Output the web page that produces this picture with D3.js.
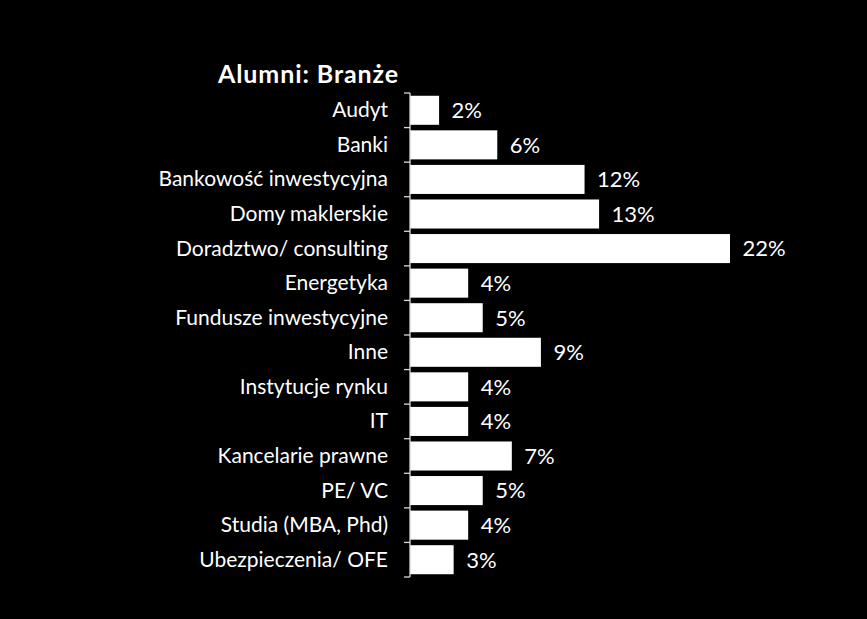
<!DOCTYPE html>
<html><head><meta charset="utf-8">
<script src="https://cdn.jsdelivr.net/npm/d3@7"></script>
<style>html,body{margin:0;padding:0;background:#000;}svg{display:block;}text{font-variant-ligatures:none;font-feature-settings:"liga" 0;}</style>
</head><body>
<script>
const title = "Alumni: Branże";
const categories = ["Audyt","Banki","Bankowość inwestycyjna","Domy maklerskie","Doradztwo/ consulting","Energetyka","Fundusze inwestycyjne","Inne","Instytucje rynku","IT","Kancelarie prawne","PE/ VC","Studia (MBA, Phd)","Ubezpieczenia/ OFE"];
const values = [2,6,12,13,22,4,5,9,4,4,7,5,4,3];
const valueLabels = ["2%","6%","12%","13%","22%","4%","5%","9%","4%","4%","7%","5%","4%","3%"];

const W = 867, H = 619;
const svg = d3.select("body").append("svg").attr("width", W).attr("height", H).style("background","#000");
const font = "Lato, 'Open Sans', sans-serif";

const x = d3.scaleLinear().domain([0, 22]).range([410, 730]);
const y = d3.scaleBand().domain(categories).range([93, 577]).paddingInner(0.16).paddingOuter(0.08);

svg.append("text").attr("x", 218).attr("y", 83).attr("fill", "#fff")
  .attr("font-family", font).attr("font-weight", "bold").attr("font-size", 25)
  .attr("letter-spacing", 0.9).text(title);

svg.selectAll("rect.bar").data(values).join("rect").attr("class","bar")
  .attr("x", x(0)).attr("y", (d,i) => y(categories[i]))
  .attr("width", d => x(d) - x(0)).attr("height", y.bandwidth()).attr("fill", "#fff");

// axis
const ax = svg.append("g");
ax.append("line").attr("x1", 410).attr("x2", 410).attr("y1", 93).attr("y2", 577)
  .attr("stroke", "#d9d9d9").attr("stroke-width", 1.3);
const tickYs = d3.range(categories.length + 1).map(i => 93 + i * (484 / categories.length));
ax.selectAll("line.t").data(tickYs).join("line").attr("class","t")
  .attr("x1", 404).attr("x2", 410).attr("y1", d => d).attr("y2", d => d)
  .attr("stroke", "#d9d9d9").attr("stroke-width", 1.3);

svg.selectAll("text.cat").data(categories).join("text").attr("class","cat")
  .attr("x", 388).attr("y", d => y(d) + y.bandwidth()/2).attr("dy", "0.33em")
  .attr("text-anchor", "end").attr("fill", "#fff").attr("font-family", font)
  .attr("font-size", 21).text(d => d);

svg.selectAll("text.val").data(values).join("text").attr("class","val")
  .attr("x", d => x(d) + 12.5).attr("y", (d,i) => y(categories[i]) + y.bandwidth()/2).attr("dy", "0.36em")
  .attr("fill", "#fff").attr("font-family", font).attr("font-size", 22)
  .text((d,i) => valueLabels[i]);
</script>
</body></html>
